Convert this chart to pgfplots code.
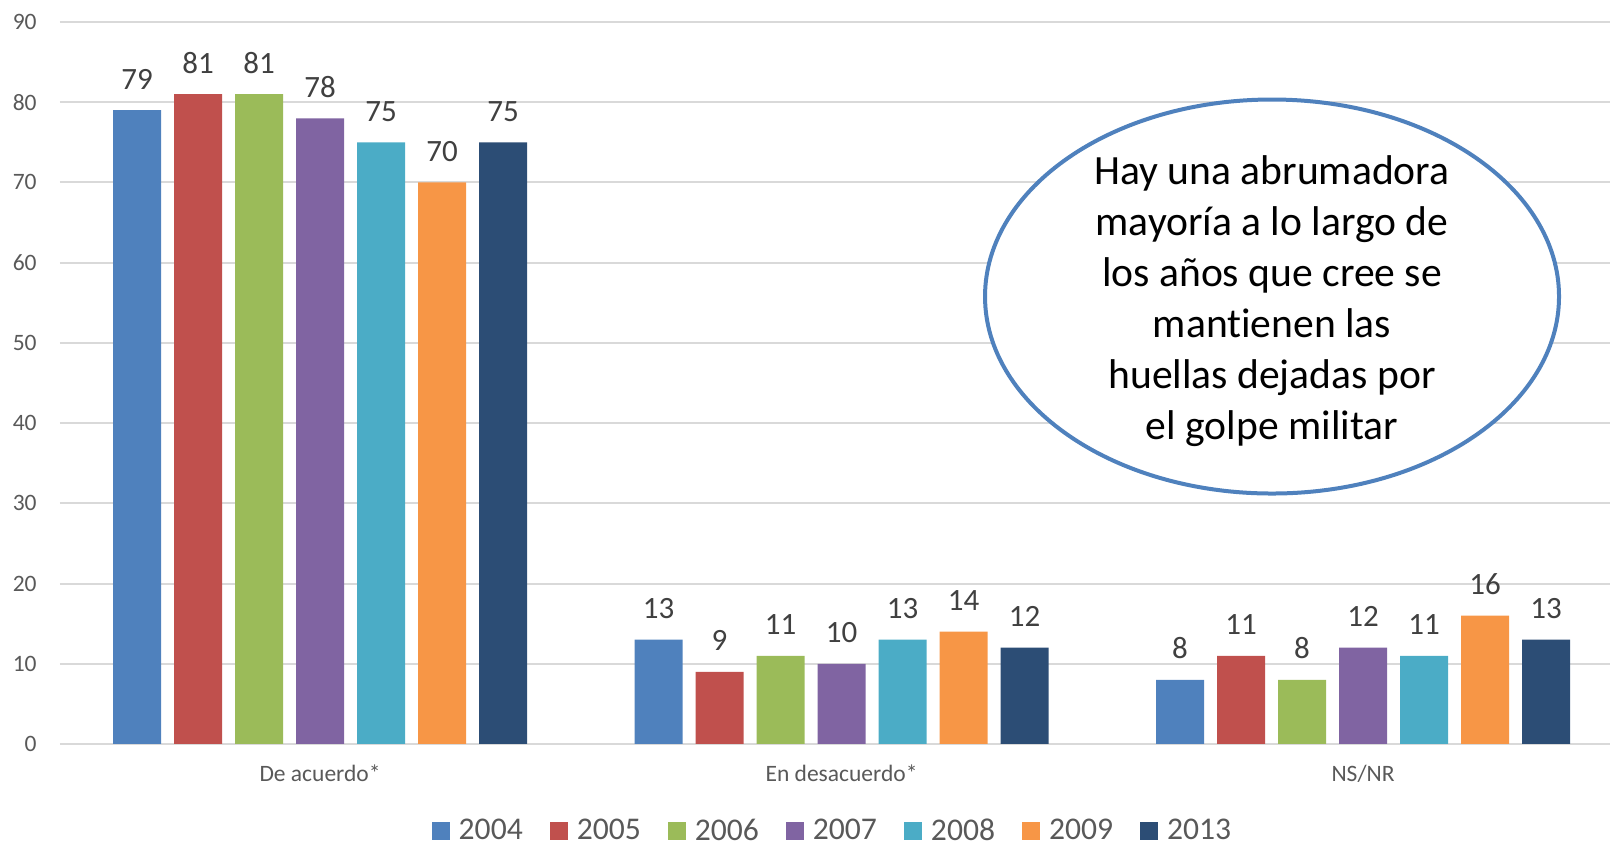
\documentclass[border=0pt]{standalone}
\usepackage{pgfplots}
\pgfplotsset{compat=1.18}
\usepackage{fontspec}
\setmainfont[RawFeature=-liga]{Carlito}

\definecolor{c2004}{HTML}{4F81BD}
\definecolor{c2005}{HTML}{C0504D}
\definecolor{c2006}{HTML}{9BBB59}
\definecolor{c2007}{HTML}{8064A2}
\definecolor{c2008}{HTML}{4BACC6}
\definecolor{c2009}{HTML}{F79646}
\definecolor{c2013}{HTML}{2C4D75}
\definecolor{gridgray}{HTML}{D9D9D9}
\definecolor{txtgray}{HTML}{595959}
\definecolor{lblgray}{HTML}{404040}

\pgfplotsset{
  sqleg/.style={legend image code/.code={\fill[##1] (0pt,-4.5pt) rectangle (9pt,4.5pt);}},
}

\begin{document}
\begin{tikzpicture}
\useasboundingbox (-30pt,-50.5pt) rectangle (775pt,372pt);
\begin{axis}[
    at={(0,0)}, anchor=south west,
    scale only axis,
    width=775pt, height=361pt,
    ybar=6.5pt, bar width=24pt,
    xmin=-0.4986, xmax=2.4736,
    ymin=0, ymax=90,
    ytick={0,10,...,90},
    xtick={0,1,2},
    xticklabels={De acuerdo*, En desacuerdo*, NS/NR},
    major tick length=0pt,
    axis line style={draw=none},
    ymajorgrids,
    grid style={color=gridgray, line width=1pt},
    /pgf/number format/assume math mode=true,
    tick label style={font=\fontsize{11.75}{14}\selectfont, color=txtgray},
    yticklabel style={anchor=east, inner sep=0pt, xshift=-11.5pt},
    xticklabel style={anchor=base, inner sep=0pt, yshift=-19pt},
    nodes near coords,
    every node near coord/.append style={anchor=base, inner sep=0pt, yshift=10.5pt,
        font=\fontsize{15.5}{18}\selectfont, color=lblgray},
    legend columns=7,
    legend style={draw=none, fill=none, at={(0.499,-0.1205)}, anchor=center,
        font=\fontsize{15.8}{18}\selectfont, text=txtgray,
        /tikz/every odd column/.append style={column sep=2.5pt},
        /tikz/every even column/.append style={column sep=11.5pt}},
  ]
  \addplot[fill=c2004, draw=none, sqleg] coordinates {(0,79) (1,13) (2,8)};
  \addplot[fill=c2005, draw=none, sqleg] coordinates {(0,81) (1,9) (2,11)};
  \addplot[fill=c2006, draw=none, sqleg] coordinates {(0,81) (1,11) (2,8)};
  \addplot[fill=c2007, draw=none, sqleg] coordinates {(0,78) (1,10) (2,12)};
  \addplot[fill=c2008, draw=none, sqleg] coordinates {(0,75) (1,13) (2,11)};
  \addplot[fill=c2009, draw=none, sqleg] coordinates {(0,70) (1,14) (2,16)};
  \addplot[fill=c2013, draw=none, sqleg] coordinates {(0,75) (1,12) (2,13)};
  \legend{2004,2005,2006,2007,2008,2009,2013}
  % globo de texto
  \draw[c2004, line width=2pt, fill=white] (axis cs:1.8255,55.78) ellipse [x radius=143.5pt, y radius=98.5pt];
  \node[align=center, font=\fontsize{20.8}{25.5}\selectfont, text=black, yshift=-2.25pt]
    at (axis cs:1.8255,55.78) {Hay una abrumadora\\mayoría a lo largo de\\los años que cree se\\mantienen las\\huellas dejadas por\\el golpe militar};
\end{axis}
\end{tikzpicture}
\end{document}
